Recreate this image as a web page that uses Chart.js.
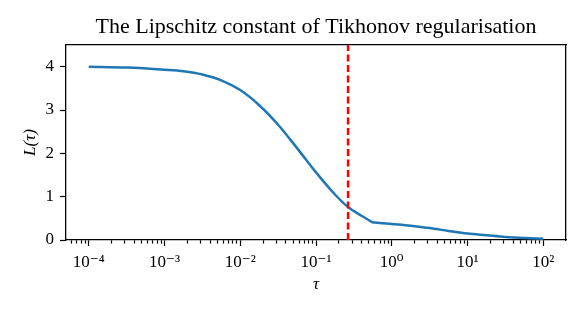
<!DOCTYPE html>
<html>
<head>
<meta charset="utf-8">
<script src="https://cdn.jsdelivr.net/npm/chart.js"></script>
<style>
  html, body { margin: 0; padding: 0; background: #fff; }
  #wrap { width: 585px; height: 312px; }
</style>
</head>
<body>
<div id="wrap"><canvas id="myChart"></canvas></div>
<script>
// Values
var tau = [1e-4, 3.16e-4, 1e-3, 1.78e-3, 3.16e-3, 5.62e-3, 1e-2, 1.78e-2, 3.16e-2, 5.62e-2,
  1e-1, 1.78e-1, 2.65e-1, 3.98e-1, 5.13e-1, 5.55e-1, 6.03e-1,
  1, 1.78, 3.16, 5.62, 10, 17.8, 31.6, 56.2, 100];
var lipschitz = [4.00, 3.98, 3.93, 3.895, 3.82, 3.685, 3.46, 3.11, 2.66, 2.12,
  1.56, 1.05, 0.76, 0.56, 0.445, 0.41, 0.405,
  0.37, 0.33, 0.275, 0.21, 0.15, 0.11, 0.07, 0.045, 0.03];
var tauStar = [0.265];
var xMajorTicks = [1e-4, 1e-3, 1e-2, 1e-1, 1e0, 1e1, 1e2];
var xTickLabels = ['10⁻⁴', '10⁻³', '10⁻²', '10⁻¹', '10⁰', '10¹', '10²'];
var yTicks = [0, 1, 2, 3, 4];

var xMin = Math.pow(10, -4.3);
var xMax = Math.pow(10, 2.3);
var serif = "'Liberation Serif', 'DejaVu Serif', serif";

// log minor ticks 2..9 x 10^k inside the axis range
var xMinorTicks = [];
for (var k = -5; k <= 2; k++) {
  for (var m = 2; m <= 9; m++) {
    var v = m * Math.pow(10, k);
    if (v >= xMin && v <= xMax) xMinorTicks.push(v);
  }
}

var black = '#000';
var gridOpts = {
  drawOnChartArea: false,
  drawTicks: true,
  tickLength: 6,
  tickColor: black,
  tickWidth: 1.2,
};
var borderOpts = { display: true, color: black, width: 1.3 };

var ctx = document.getElementById('myChart').getContext('2d');

var myChart = new Chart(ctx, {
  type: 'line',
  data: {
    datasets: [
      {
        data: tau.map(function (t, i) { return { x: t, y: lipschitz[i] }; }),
        borderColor: '#1f77b4',
        borderWidth: 2.5,
        pointRadius: 0,
        cubicInterpolationMode: 'monotone',
        order: 1,
      },
      {
        data: [{ x: tauStar[0], y: 0 }, { x: tauStar[0], y: 4.5 }],
        borderColor: 'red',
        borderWidth: 2.5,
        borderDash: [7, 3.5],
        pointRadius: 0,
        order: 0,
      },
    ],
  },
  options: {
    responsive: true,
    maintainAspectRatio: false,
    animation: false,
    layout: { padding: { left: 0, right: 19, top: 0, bottom: 0 } },
    plugins: {
      legend: { display: false },
      tooltip: { enabled: false },
    },
    scales: {
      x: {
        type: 'logarithmic',
        position: 'bottom',
        min: xMin,
        max: xMax,
        afterBuildTicks: function (axis) {
          var t = xMajorTicks.map(function (v) { return { value: v, major: true }; })
            .concat(xMinorTicks.map(function (v) { return { value: v, major: false }; }));
          t.sort(function (a, b) { return a.value - b.value; });
          axis.ticks = t;
        },
        ticks: {
          autoSkip: false,
          maxRotation: 0,
          color: black,
          padding: 6,
          font: { family: serif, size: 17 },
          callback: function (value, index, ticks) {
            var t = ticks[index];
            if (!t.major) return '';
            return xTickLabels[xMajorTicks.indexOf(t.value)];
          },
        },
        grid: Object.assign({}, gridOpts, {
          tickBorderDash: function (c) {
            return c.tick && c.tick.major ? [] : [3.3, 30];
          },
        }),
        border: borderOpts,
        title: {
          display: true,
          text: 'τ',
          color: black,
          font: { family: serif, size: 17, style: 'italic' },
          padding: { top: 0, bottom: 17 },
        },
        afterFit: function (s) { s.height = 72; },
      },
      xTop: {
        type: 'logarithmic',
        position: 'top',
        min: xMin,
        max: xMax,
        ticks: { display: false },
        grid: { display: false },
        border: borderOpts,
        title: {
          display: true,
          text: 'The Lipschitz constant of Tikhonov regularisation',
          color: black,
          font: { family: serif, size: 22 },
          padding: { top: 14, bottom: 0 },
        },
        afterFit: function (s) { s.height = 45; },
      },
      y: {
        type: 'linear',
        position: 'left',
        min: 0,
        max: 4.5,
        afterBuildTicks: function (axis) {
          axis.ticks = yTicks.map(function (v) { return { value: v }; });
        },
        ticks: {
          color: black,
          padding: 6,
          font: { family: serif, size: 17 },
        },
        grid: gridOpts,
        border: borderOpts,
        title: {
          display: true,
          text: 'L(τ)',
          color: black,
          font: { family: serif, size: 17, style: 'italic' },
          padding: { top: 20, bottom: 0 },
        },
        afterFit: function (s) { s.width = 66; },
      },
      yRight: {
        type: 'linear',
        position: 'right',
        min: 0,
        max: 4.5,
        ticks: { display: false },
        grid: { display: false },
        border: borderOpts,
        afterFit: function (s) { s.width = 0; },
      },
    },
  },
});
</script>
</body>
</html>
